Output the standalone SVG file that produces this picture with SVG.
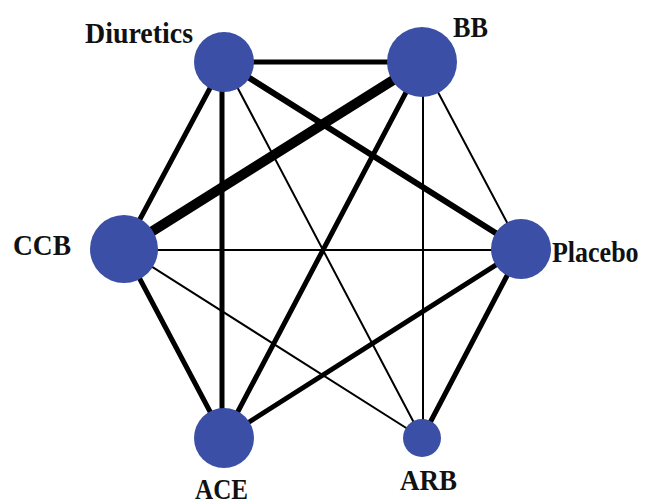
<svg xmlns="http://www.w3.org/2000/svg" width="646" height="504" viewBox="0 0 646 504">
<style>
.e{stroke:#000;stroke-linecap:round;fill:none}
.thin{stroke-width:2}
.mid{stroke-width:5}
.thick{stroke-width:6}
.xl{stroke-width:10}
.n{fill:#3a4fa5}
.t{font-family:"Liberation Serif","Times New Roman",serif;font-weight:bold;font-size:30px;fill:#111}
</style>
<rect width="646" height="504" fill="#fff"/>
<g id="connectors">
<line class="e mid" x1="224" y1="62" x2="422" y2="62"/>
<line class="e mid" x1="224" y1="62" x2="124" y2="249"/>
<line class="e mid" x1="222" y1="62" x2="222" y2="438"/>
<line class="e thick" x1="224" y1="62" x2="521" y2="249"/>
<line class="e thin" x1="224" y1="62" x2="422" y2="438"/>
<line class="e xl" x1="422" y1="62" x2="124" y2="249"/>
<line class="e mid" x1="422" y1="62" x2="224" y2="438"/>
<line class="e thin" x1="423" y1="62" x2="423" y2="438"/>
<line class="e thin" x1="422" y1="62" x2="521" y2="249"/>
<line class="e thin" x1="124" y1="250" x2="521" y2="250"/>
<line class="e mid" x1="124" y1="249" x2="224" y2="438"/>
<line class="e thin" x1="124" y1="249" x2="422" y2="438"/>
<line class="e mid" x1="521" y1="249" x2="224" y2="438"/>
<line class="e mid" x1="521" y1="249" x2="422" y2="438"/>
</g>
<g id="diuretics"><circle class="n" cx="224" cy="62" r="30"/><text class="t" x="85" y="43" textLength="108" lengthAdjust="spacingAndGlyphs">Diuretics</text></g>
<g id="bb"><circle class="n" cx="422" cy="62" r="35"/><text class="t" x="453" y="37" textLength="35" lengthAdjust="spacingAndGlyphs">BB</text></g>
<g id="ccb"><circle class="n" cx="124" cy="249" r="34"/><text class="t" x="13" y="255" textLength="58" lengthAdjust="spacingAndGlyphs">CCB</text></g>
<g id="placebo"><circle class="n" cx="521" cy="249" r="30"/><text class="t" style="font-size:26px" transform="translate(552,262) scale(1,1.15)" x="0" y="0">Placebo</text></g>
<g id="ace"><circle class="n" cx="224" cy="438" r="30"/><text class="t" x="195" y="499" textLength="53" lengthAdjust="spacingAndGlyphs">ACE</text></g>
<g id="arb"><circle class="n" cx="422" cy="438" r="19"/><text class="t" x="400" y="490" textLength="57" lengthAdjust="spacingAndGlyphs">ARB</text></g>
</svg>
